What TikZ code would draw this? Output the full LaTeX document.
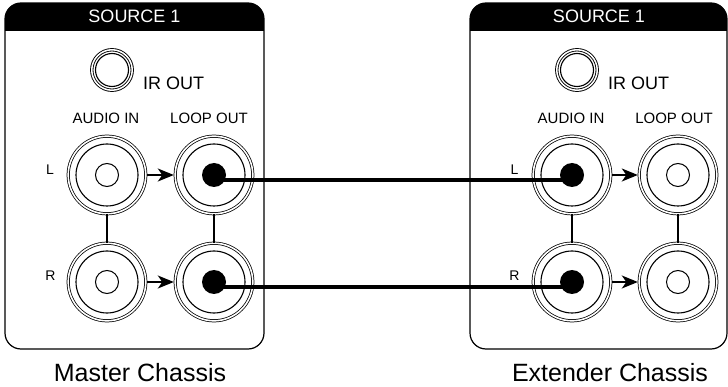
\documentclass[tikz,border=0pt]{standalone}
\usepackage{fontspec}
\setmainfont{Liberation Sans}
\usetikzlibrary{arrows.meta,calc}
\tikzset{
  jack/.style={circle,draw,double,line width=0.75pt,double distance=1.6pt,minimum size=77.6pt,inner sep=0pt,outer sep=0pt},
  irjack/.style={circle,draw,double,line width=0.9pt,double distance=1.5pt,minimum size=40.5pt,inner sep=0pt,outer sep=0pt},
  ring/.style={line width=1.1pt},
  hole/.style={line width=1pt},
  pin/.style={fill=black},
  flow/.style={line width=1.6pt,-{Stealth[length=16pt,width=13pt,inset=4.5pt]},shorten >=1.4pt,shorten <=1.6pt},
  link/.style={line width=1.2pt},
  cable/.style={line width=3.6pt},
  panel/.style={line width=1.2pt,rounded corners=16pt},
  hdr/.style={text=white,inner sep=0pt,anchor=base,font=\fontsize{18}{20}\selectfont},
  irlbl/.style={inner sep=0pt,anchor=base west,font=\fontsize{18}{20}\selectfont},
  collbl/.style={inner sep=0pt,anchor=base,font=\fontsize{15}{17}\selectfont},
  chlbl/.style={inner sep=0pt,anchor=base,font=\fontsize{14}{16}\selectfont},
  title/.style={inner sep=0pt,anchor=base,font=\fontsize{25}{28}\selectfont},
}
\begin{document}
\begin{tikzpicture}[x=1pt,y=-1pt]
\useasboundingbox (0,0) rectangle (728,387);
% ---------- Master panel ----------
\begin{scope}
  \path[clip,rounded corners=16pt] (5,3) rectangle (264,349);
  \fill[black] (5,3) rectangle (264,31);
\end{scope}
\draw[panel] (5,3) rectangle (264,349);
\node[hdr] (msrc) at (134.5,22.5) {SOURCE 1};
\node[irjack] (mir) at (112,70) {};
\draw[ring] (mir.center) circle[radius=16.5pt];
\node[irlbl] (mirl) at (143,90) {IR OUT};
\node[collbl] (main) at (106,123.5) {AUDIO IN};
\node[collbl] (mloop) at (209,123.5) {LOOP OUT};
\node[jack] (mLi) at (107,175) {};
\node[jack] (mLo) at (214,175) {};
\node[jack] (mRi) at (107,282) {};
\node[jack] (mRo) at (214,282) {};
\foreach \n in {mLi,mLo,mRi,mRo} {\draw[ring] (\n.center) circle[radius=31pt];}
\draw[hole] (mLi.center) circle[radius=11.5pt];
\draw[hole] (mRi.center) circle[radius=11.5pt];
\fill[pin] (mLo.center) circle[radius=12pt];
\fill[pin] (mRo.center) circle[radius=12pt];
\draw[flow] (mLi) -- (mLo);
\draw[flow] (mRi) -- (mRo);
\draw[link] (mLi) -- (mRi);
\draw[link] (mLo) -- (mRo);
\node[chlbl] (mL) at (50,175) {L};
\node[chlbl] (mR) at (50.5,281) {R};
\node[title] (mtitle) at (140,381) {Master Chassis};
% ---------- Extender panel ----------
\begin{scope}
  \path[clip,rounded corners=16pt] (470,3) rectangle (727,349);
  \fill[black] (470,3) rectangle (727,31);
\end{scope}
\draw[panel] (470,3) rectangle (727,349);
\node[hdr] (esrc) at (599,22.5) {SOURCE 1};
\node[irjack] (eir) at (577,70) {};
\draw[ring] (eir.center) circle[radius=16.5pt];
\node[irlbl] (eirl) at (608,90) {IR OUT};
\node[collbl] (eain) at (571,123.5) {AUDIO IN};
\node[collbl] (eloop) at (674,123.5) {LOOP OUT};
\node[jack] (eLi) at (572,175) {};
\node[jack] (eLo) at (678,175) {};
\node[jack] (eRi) at (572,282) {};
\node[jack] (eRo) at (678,282) {};
\foreach \n in {eLi,eLo,eRi,eRo} {\draw[ring] (\n.center) circle[radius=31pt];}
\draw[hole] (eLo.center) circle[radius=11.5pt];
\draw[hole] (eRo.center) circle[radius=11.5pt];
\fill[pin] (eLi.center) circle[radius=12pt];
\fill[pin] (eRi.center) circle[radius=12pt];
\draw[flow] (eLi) -- (eLo);
\draw[flow] (eRi) -- (eRo);
\draw[link] (eLi) -- (eRi);
\draw[link] (eLo) -- (eRo);
\node[chlbl] (eL) at (514.5,175) {L};
\node[chlbl] (eR) at (514.5,281) {R};
\node[title] (etitle) at (610,381) {Extender Chassis};
% ---------- cables ----------
\draw[cable] ([yshift=-5pt]mLo.center) -- ([yshift=-5pt]eLi.center);
\draw[cable] ([yshift=-5pt]mRo.center) -- ([yshift=-5pt]eRi.center);
\end{tikzpicture}
\end{document}
